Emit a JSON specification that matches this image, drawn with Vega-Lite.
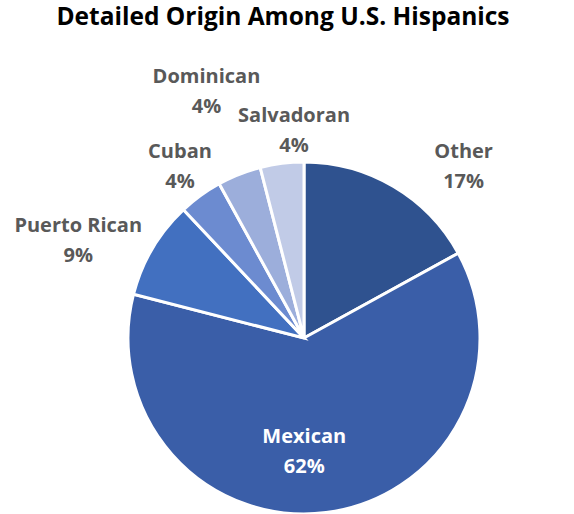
{
  "$schema": "https://vega.github.io/schema/vega-lite/v6.json",
  "autosize": {"type": "none"},
  "padding": {"left": 128, "top": 162, "right": 94, "bottom": 0},
  "width": 352,
  "height": 352,
  "background": "white",
  "title": {"text": "Detailed Origin Among U.S. Hispanics", "font": "Open Sans", "fontSize": 24.5, "fontWeight": "bold", "color": "#000000", "anchor": "middle", "dx": -21, "dy": -16},
  "config": {"view": {"stroke": null}},
  "data": {"values": [
    {"k": 1, "origin": "Other", "share": 17},
    {"k": 2, "origin": "Mexican", "share": 62},
    {"k": 3, "origin": "Puerto Rican", "share": 9},
    {"k": 4, "origin": "Cuban", "share": 4},
    {"k": 5, "origin": "Dominican", "share": 4},
    {"k": 6, "origin": "Salvadoran", "share": 4}
  ]},
  "transform": [{"calculate": "datum.origin + '\\n' + datum.share + '%'", "as": "label"}],
  "encoding": {
    "theta": {"field": "share", "type": "quantitative", "stack": true},
    "order": {"field": "k", "type": "quantitative"}
  },
  "layer": [
    {
      "mark": {"type": "arc", "outerRadius": 176, "stroke": "white", "strokeWidth": 3},
      "encoding": {
        "color": {"field": "origin", "type": "nominal", "legend": null,
          "scale": {"domain": ["Other", "Mexican", "Puerto Rican", "Cuban", "Dominican", "Salvadoran"],
                    "range": ["#2F528F", "#3A5EA8", "#4270C0", "#6C8BD0", "#9CAEDB", "#C1CBE7"]}}
      }
    },
    {
      "mark": {"type": "text", "radius": 233, "dx": 41, "dy": 15, "font": "Open Sans", "fontSize": 20, "fontWeight": "bold", "color": "#595959", "lineBreak": "\n", "lineHeight": 30, "align": "center", "baseline": "middle"},
      "encoding": {"text": {"condition": {"test": "datum.origin === 'Other'", "field": "label"}, "value": ""}}
    },
    {
      "mark": {"type": "text", "radius": 114, "dx": -14, "dy": -14, "font": "Open Sans", "fontSize": 20, "fontWeight": "bold", "color": "#FFFFFF", "lineBreak": "\n", "lineHeight": 30, "align": "center", "baseline": "middle"},
      "encoding": {"text": {"condition": {"test": "datum.origin === 'Mexican'", "field": "label"}, "value": ""}}
    },
    {
      "mark": {"type": "text", "radius": 246, "dx": -14, "dy": 13, "font": "Open Sans", "fontSize": 20, "fontWeight": "bold", "color": "#595959", "lineBreak": "\n", "lineHeight": 30, "align": "center", "baseline": "middle"},
      "encoding": {"text": {"condition": {"test": "datum.origin === 'Puerto Rican'", "field": "label"}, "value": ""}}
    },
    {
      "mark": {"type": "text", "radius": 211, "dy": -15, "font": "Open Sans", "fontSize": 20, "fontWeight": "bold", "color": "#595959", "lineBreak": "\n", "lineHeight": 30, "align": "center", "baseline": "middle"},
      "encoding": {"text": {"condition": {"test": "datum.origin === 'Cuban'", "field": "label"}, "value": ""}}
    },
    {
      "mark": {"type": "text", "radius": 265, "dy": -15, "font": "Open Sans", "fontSize": 20, "fontWeight": "bold", "color": "#595959", "lineBreak": "\n", "lineHeight": 30, "align": "center", "baseline": "middle"},
      "encoding": {"text": {"condition": {"test": "datum.origin === 'Dominican'", "field": "label"}, "value": ""}}
    },
    {
      "mark": {"type": "text", "radius": 207, "dx": 16, "dy": -17, "font": "Open Sans", "fontSize": 20, "fontWeight": "bold", "color": "#595959", "lineBreak": "\n", "lineHeight": 30, "align": "center", "baseline": "middle"},
      "encoding": {"text": {"condition": {"test": "datum.origin === 'Salvadoran'", "field": "label"}, "value": ""}}
    }
  ]
}
